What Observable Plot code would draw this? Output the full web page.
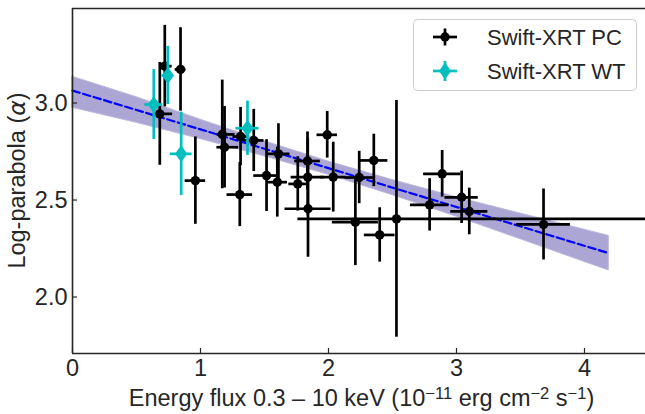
<!DOCTYPE html>
<html><head><meta charset="utf-8">
<script src="https://cdn.jsdelivr.net/npm/d3@7"></script>
<script src="https://cdn.jsdelivr.net/npm/@observablehq/plot@0.6"></script>
<style>
html,body{margin:0;padding:0;background:#fff;}
#chart{position:relative;width:645px;height:414px;}
</style></head><body><div id="chart"></div>
<script>
// Swift-XRT PC data
const pcX      = [0.682, 0.721, 0.844, 0.960, 1.170, 1.188, 1.307, 1.313, 1.416, 1.516, 1.609, 1.600, 1.760, 1.836, 1.838, 1.840, 1.990, 2.037, 2.240, 2.210, 2.354, 2.400, 2.531, 2.790, 2.888, 3.040, 3.100, 3.680];
const pcY      = [2.944, 3.190, 3.173, 2.600, 2.838, 2.772, 2.528, 2.827, 2.807, 2.626, 2.738, 2.592, 2.583, 2.701, 2.618, 2.455, 2.836, 2.618, 2.616, 2.386, 2.704, 2.320, 2.403, 2.475, 2.635, 2.514, 2.441, 2.374];
const pcXErrLo = [0.030, 0.040, 0.042, 0.080, 0.040, 0.060, 0.100, 0.060, 0.080, 0.100, 0.090, 0.080, 0.070, 0.100, 0.130, 0.180, 0.080, 0.100, 0.110, 0.180, 0.110, 0.120, 0.770, 0.150, 0.145, 0.130, 0.145, 0.210];
const pcXErrHi = [0.100, 0.058, 0.042, 0.080, 0.100, 0.110, 0.100, 0.060, 0.080, 0.100, 0.090, 0.080, 0.070, 0.100, 0.130, 0.180, 0.080, 0.100, 0.110, 0.180, 0.110, 0.120, 2.500, 0.150, 0.145, 0.130, 0.145, 0.210];
const pcYErr   = [0.265, 0.210, 0.215, 0.225, 0.280, 0.210, 0.165, 0.150, 0.160, 0.185, 0.155, 0.180, 0.140, 0.150, 0.200, 0.250, 0.120, 0.180, 0.135, 0.224, 0.135, 0.140, 0.610, 0.135, 0.120, 0.135, 0.120, 0.183];

// Swift-XRT WT data
const wtX    = [0.635, 0.745, 0.849, 1.367];
const wtY    = [2.992, 3.142, 2.738, 2.870];
const wtXErr = [0.070, 0.045, 0.085, 0.090];
const wtYErr = [0.180, 0.150, 0.215, 0.140];

// Linear fit and its confidence band
const fitX   = [0, 4.19];
const fitY   = [3.064, 2.226];
const bandX  = [0, 0.5, 1.0, 1.5, 2.0, 2.5, 3.0, 3.5, 4.0, 4.19];
const bandLo = [2.975, 2.898, 2.814, 2.725, 2.630, 2.525, 2.414, 2.298, 2.181, 2.137];
const bandHi = [3.135, 3.030, 2.914, 2.803, 2.698, 2.603, 2.514, 2.430, 2.347, 2.315];

// Axes
const xDomain = [0, 4.4766];
const yDomain = [1.709, 3.487];
const xTicks = [0, 1, 2, 3, 4];
const yTicks = [2.0, 2.5, 3.0];
const legendLabels = ["Swift-XRT PC", "Swift-XRT WT"];

const W = 645, H = 414, mL = 72, mR = 0, mT = 8, mB = 61;
const plotW = W - mL - mR, plotH = H - mT - mB;
const font = '"Liberation Sans", Arial, Helvetica, sans-serif';
const txt = "#262626";
const cyan = "#00bfbf";
const fs = 23.5;

const pc = pcX.map((x, i) => ({x, y: pcY[i], x1: x - pcXErrLo[i], x2: x + pcXErrHi[i], y1: pcY[i] - pcYErr[i], y2: pcY[i] + pcYErr[i]}));
const wt = wtX.map((x, i) => ({x, y: wtY[i], x1: x - wtXErr[i], x2: x + wtXErr[i], y1: wtY[i] - wtYErr[i], y2: wtY[i] + wtYErr[i]}));
const band = bandX.map((x, i) => ({x, lo: bandLo[i], hi: bandHi[i]}));
const fit = fitX.map((x, i) => ({x, y: fitY[i]}));

const thinDiamond = {
  draw(ctx, size) {
    const h = Math.sqrt(size / Math.PI) * 1.7, w = h * 0.72;
    ctx.moveTo(0, -h); ctx.lineTo(w, 0); ctx.lineTo(0, h); ctx.lineTo(-w, 0); ctx.closePath();
  }
};

const plot = Plot.plot({
  width: W, height: H,
  marginLeft: mL, marginRight: mR, marginTop: mT, marginBottom: mB,
  style: {fontFamily: font, fontSize: fs + "px", color: txt, background: "white", overflow: "visible"},
  x: {domain: xDomain},
  y: {domain: yDomain},
  marks: [
    Plot.areaY(band, {x: "x", y1: "lo", y2: "hi", fill: "#aba6d3", stroke: "#bcb8de", strokeWidth: 1}),
    Plot.line(fit, {x: "x", y: "y", stroke: "#0000ff", strokeWidth: 2.2, strokeDasharray: "7.5,3.5"}),
    Plot.ruleY(pc, {y: "y", x1: "x1", x2: "x2", stroke: "black", strokeWidth: 2.7, clip: true}),
    Plot.ruleX(pc, {x: "x", y1: "y1", y2: "y2", stroke: "black", strokeWidth: 2.7, clip: true}),
    Plot.dot(pc, {x: "x", y: "y", r: 4.7, fill: "black", stroke: "none"}),
    Plot.ruleY(wt, {y: "y", x1: "x1", x2: "x2", stroke: cyan, strokeWidth: 2.7}),
    Plot.ruleX(wt, {x: "x", y1: "y1", y2: "y2", stroke: cyan, strokeWidth: 2.7}),
    Plot.dot(wt, {x: "x", y: "y", r: 5, symbol: thinDiamond, fill: cyan, stroke: "none"}),
    Plot.ruleX([xDomain[0]], {stroke: txt, strokeWidth: 1.6}),
    Plot.ruleY([yDomain[0], yDomain[1]], {stroke: txt, strokeWidth: 1.6}),
    Plot.tickX(xTicks, {x: d => d, insetTop: plotH - 5, stroke: txt, strokeWidth: 1.2}),
    Plot.tickY(yTicks, {y: d => d, insetRight: plotW - 5, stroke: txt, strokeWidth: 1.2}),
    Plot.axisX({ticks: xTicks, tickSize: 0, tickPadding: 6, tickFormat: d => String(d), label: null, fill: txt}),
    Plot.axisY({ticks: yTicks, tickSize: 0, tickPadding: 5, tickFormat: d => d.toFixed(1), label: null, fill: txt})
  ]
});

document.getElementById("chart").appendChild(plot);
const svg = d3.select(plot);

// X axis label with superscripts
const xl = svg.append("text")
  .attr("x", mL + plotW / 2 + 3).attr("y", H - 8)
  .attr("text-anchor", "middle").attr("fill", txt)
  .style("font-family", font).style("font-size", fs + "px");
const parts = [["Energy flux 0.3 \u2013 10 keV (10", false], ["\u221211", true], [" erg cm", false], ["\u22122", true], [" s", false], ["\u22121", true], [")", false]];
parts.forEach(([t, sup], i) => {
  if (sup) xl.append("tspan").attr("dy", "-0.42em").style("font-size", "16.5px").text(t);
  else {
    const ts = xl.append("tspan").text(t);
    if (i > 0) ts.attr("dy", "0.295em");
  }
});

// Y axis label
const yl = svg.append("text")
  .attr("transform", `translate(25,${mT + plotH / 2}) rotate(-90)`)
  .attr("text-anchor", "middle").attr("fill", txt)
  .style("font-family", font).style("font-size", fs + "px");
yl.append("tspan").text("Log-parabola (");
yl.append("tspan").style("font-style", "italic").style("font-family", '"DejaVu Sans", sans-serif').text("\u03b1");
yl.append("tspan").text(")");

// Legend
const lg = svg.append("g");
lg.append("rect").attr("x", 413.5).attr("y", 19.5).attr("width", 223).attr("height", 71).attr("rx", 4)
  .attr("fill", "white").attr("fill-opacity", 0.8).attr("stroke", "#cccccc").attr("stroke-width", 1);
const rows = [{y: 37, color: "black", sym: "circle", vh: 8.5}, {y: 71, color: cyan, sym: "diamond", vh: 10}];
rows.forEach((r, i) => {
  lg.append("line").attr("x1", 433).attr("x2", 457).attr("y1", r.y).attr("y2", r.y).attr("stroke", r.color).attr("stroke-width", 2.7);
  lg.append("line").attr("x1", 445).attr("x2", 445).attr("y1", r.y - r.vh).attr("y2", r.y + r.vh).attr("stroke", r.color).attr("stroke-width", 2.7);
  if (r.sym === "circle") lg.append("circle").attr("cx", 445).attr("cy", r.y).attr("r", 4.7).attr("fill", r.color);
  else lg.append("path").attr("d", `M445,${r.y - 8.5}L451,${r.y}L445,${r.y + 8.5}L439,${r.y}Z`).attr("fill", r.color);
  lg.append("text").attr("x", 487).attr("y", r.y + 8).attr("fill", txt).attr("text-anchor", "start")
    .style("font-family", font).style("font-size", "22px").text(legendLabels[i]);
});
</script>
</body></html>
